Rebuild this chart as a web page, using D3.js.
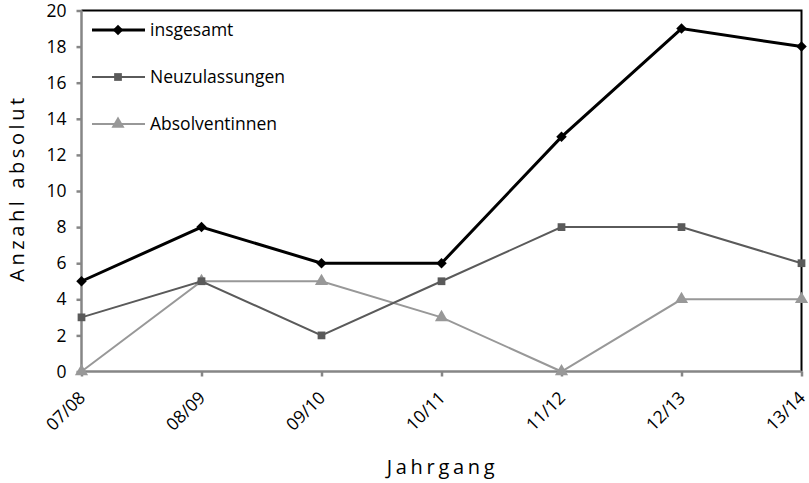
<!DOCTYPE html>
<html><head><meta charset="utf-8">
<script src="https://cdn.jsdelivr.net/npm/d3@7"></script>
<style>body{margin:0;background:#fff;font-family:"Open Sans",sans-serif;}</style>
</head><body><svg id="c" width="809" height="483"></svg>
<script>
const categories=["07/08","08/09","09/10","10/11","11/12","12/13","13/14"];
const insgesamt=[5,8,6,6,13,19,18];
const neuzulassungen=[3,5,2,5,8,8,6];
const absolventinnen=[0,5,5,3,0,4,4];
const yTicks=[0,2,4,6,8,10,12,14,16,18,20];
const seriesNames=["insgesamt","Neuzulassungen","Absolventinnen"];

const svg=d3.select("#c");
const L=81.5,R=801.5,T=10.5,B=371.5;
const x=d3.scalePoint().domain(categories).range([L,R]);
const y=d3.scaleLinear().domain([0,20]).range([B,T]);
const fs="Open Sans, sans-serif";
const axisCol="#868686";

svg.append("path").attr("d",`M${L},${T}H${R}V${B}`).attr("fill","none").attr("stroke","#000").attr("stroke-width",2);

const ya=svg.append("g").attr("transform",`translate(${L},0)`).call(d3.axisLeft(y).tickValues(yTicks).tickSize(5).tickPadding(10).tickFormat(d3.format("d")));
const xa=svg.append("g").attr("transform",`translate(0,${B})`).call(d3.axisBottom(x).tickSize(5).tickFormat(""));
[ya,xa].forEach(g=>{g.selectAll("path,line").attr("stroke",axisCol).attr("stroke-width",2.5);g.select(".domain").attr("d",g===ya?`M0,${B}V${T}`:`M${L},0H${R}`);});
ya.selectAll("text").attr("font-family",fs).attr("font-size",17.5).attr("fill","#000");

svg.append("g").selectAll("text").data(categories).join("text")
 .attr("transform",d=>`translate(${x(d)+0.5},${B+23}) rotate(-45)`)
 .attr("text-anchor","end").attr("dy","0.35em")
 .attr("font-family",fs).attr("font-size",17.5).text(d=>d);

svg.append("text").attr("transform",`translate(24,188) rotate(-90)`).attr("text-anchor","middle")
 .attr("font-family",fs).attr("font-size",20).attr("letter-spacing",3.6).text("Anzahl absolut");
svg.append("text").attr("x",(L+R)/2+1).attr("y",474).attr("text-anchor","middle")
 .attr("font-family",fs).attr("font-size",20).attr("letter-spacing",3.7).text("Jahrgang");

const series=[
 {name:seriesNames[0],vals:insgesamt,color:"#000",w:3,sym:d3.symbolSquare,size:55,rot:45,fill:"#000"},
 {name:seriesNames[1],vals:neuzulassungen,color:"#5a5a5a",w:2,sym:d3.symbolSquare,size:60,rot:0,fill:"#5a5a5a"},
 {name:seriesNames[2],vals:absolventinnen,color:"#989898",w:2,sym:d3.symbolTriangle,size:75,rot:0,fill:"#989898"}
];
const line=d3.line().x((d,i)=>x(categories[i])).y(d=>y(d));
series.slice().reverse().forEach(s=>{
 svg.append("path").datum(s.vals).attr("d",line).attr("fill","none").attr("stroke",s.color).attr("stroke-width",s.w).attr("stroke-linejoin","miter");
 svg.append("g").selectAll("path").data(s.vals).join("path")
  .attr("transform",(d,i)=>`translate(${x(categories[i])},${y(d)}) rotate(${s.rot})`)
  .attr("d",d3.symbol().type(s.sym).size(s.size)).attr("fill",s.fill);
});

const lg=svg.append("g");
series.forEach((s,i)=>{
 const yy=30+i*47;
 lg.append("line").attr("x1",92).attr("x2",145).attr("y1",yy).attr("y2",yy).attr("stroke",s.color).attr("stroke-width",s.w);
 lg.append("path").attr("transform",`translate(118,${yy}) rotate(${s.rot})`).attr("d",d3.symbol().type(s.sym).size(s.size)).attr("fill",s.fill);
 lg.append("text").attr("x",150).attr("y",yy).attr("dy","0.35em").attr("font-family",fs).attr("font-size",17.5).text(s.name);
});
</script></body></html>
